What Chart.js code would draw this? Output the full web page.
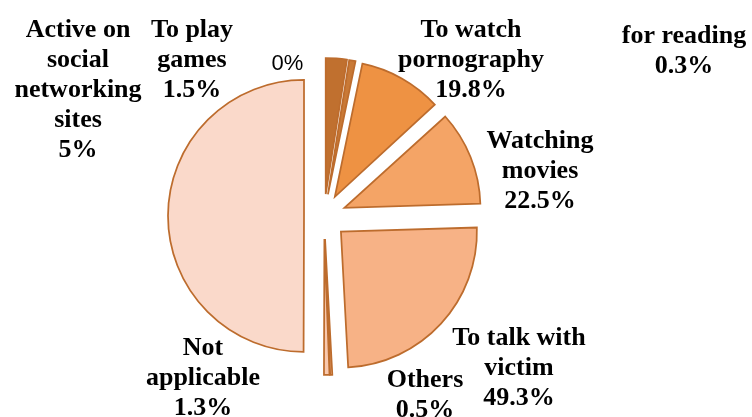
<!DOCTYPE html>
<html>
<head>
<meta charset="utf-8">
<title>Purpose of use</title>
<script src="https://cdn.jsdelivr.net/npm/chart.js@4.4.1/dist/chart.umd.min.js"></script>
<style>
  html, body { margin: 0; padding: 0; background: #fff; }
  #wrap { width: 752px; height: 417px; }
</style>
</head>
<body>
<div id="wrap"><canvas id="pie-chart" width="752" height="417"></canvas></div>
<script>
// Categories (split over lines as they are printed) and their percentages.
// The last entry is the column total, which ends up as its own slice.
const categories = [
  ['Active on', 'social', 'networking', 'sites'],
  ['To play', 'games'],
  [],
  ['To watch', 'pornography'],
  ['for reading'],
  ['Watching', 'movies'],
  ['To talk with', 'victim'],
  ['Others'],
  ['Not', 'applicable'],
  ['Total'],
];
const shares = [5, 1.5, 0, 19.8, 0.3, 22.5, 49.3, 0.5, 1.3, 100];

// the 0.3% sliver has no fill or outline of its own
const sliceColors = [
  '#C0702F', '#C97936', '#D9843A', '#EE9243', 'rgba(0,0,0,0)',
  '#F4A466', '#F7B286', '#F8C09C', '#F9C9AE', '#FAD9CA',
];
const outlineWidths = [1.75, 1.75, 1.75, 1.75, 0, 1.75, 1.75, 1.75, 1.75, 1.75];
// how far each slice is pulled out from the centre (px)
const explode = [22, 22, 22, 22, 22, 22, 23, 23, 23, 20];
// where each label block starts: centre x, first baseline
const labelSpots = [
  [78, 37], [192, 37], [287.5, 70], [471, 37], [684, 43],
  [540, 148], [519, 345], [425, 387], [203, 355], null,
];

// Chart.js grows the radius of small slices when they are offset;
// here slices just move along their bisector and keep one radius.
const baseArcDraw = Chart.ArcElement.prototype.draw;
Chart.ArcElement.prototype.draw = function (ctx) {
  const opts = this.options;
  const d = opts.offset || 0;
  if (!d) {
    baseArcDraw.call(this, ctx);
    return;
  }
  const mid = (this.startAngle + this.endAngle) / 2;
  ctx.save();
  ctx.translate(Math.cos(mid) * d, Math.sin(mid) * d);
  this.options = Object.assign({}, opts, { offset: 0 });
  baseArcDraw.call(this, ctx);
  this.options = opts;
  ctx.restore();
};

const sliceLabels = {
  id: 'sliceLabels',
  afterDatasetsDraw(chart) {
    const ctx = chart.ctx;
    ctx.save();
    ctx.fillStyle = '#000';
    ctx.textAlign = 'center';
    ctx.textBaseline = 'alphabetic';
    labelSpots.forEach((spot, i) => {
      if (!spot) return;
      const value = chart.data.datasets[0].data[i] + '%';
      const name = chart.data.labels[i];
      if (!name.length) {
        // value-only label keeps the default sans face
        ctx.font = '22px "Liberation Sans", Arial, sans-serif';
        ctx.fillText(value, spot[0], spot[1]);
        return;
      }
      ctx.font = 'bold 26px "Liberation Serif", "Times New Roman", serif';
      name.concat([value]).forEach((line, k) => {
        ctx.fillText(line, spot[0], spot[1] + k * 30);
      });
    });
    ctx.restore();
  },
};

const ctx = document.getElementById('pie-chart').getContext('2d');
new Chart(ctx, {
  type: 'pie',
  data: {
    labels: categories,
    datasets: [{
      data: shares,
      backgroundColor: sliceColors,
      borderColor: '#BD6C2D',
      borderWidth: outlineWidths,
      borderJoinStyle: 'miter',
      offset: explode,
      clip: false,
    }],
  },
  options: {
    responsive: false,
    animation: false,
    radius: 136,
    layout: { padding: { left: 0, right: 104, top: 15, bottom: 0 } },
    plugins: {
      legend: { display: false },
      tooltip: { enabled: false },
    },
  },
  plugins: [sliceLabels],
});
</script>
</body>
</html>
